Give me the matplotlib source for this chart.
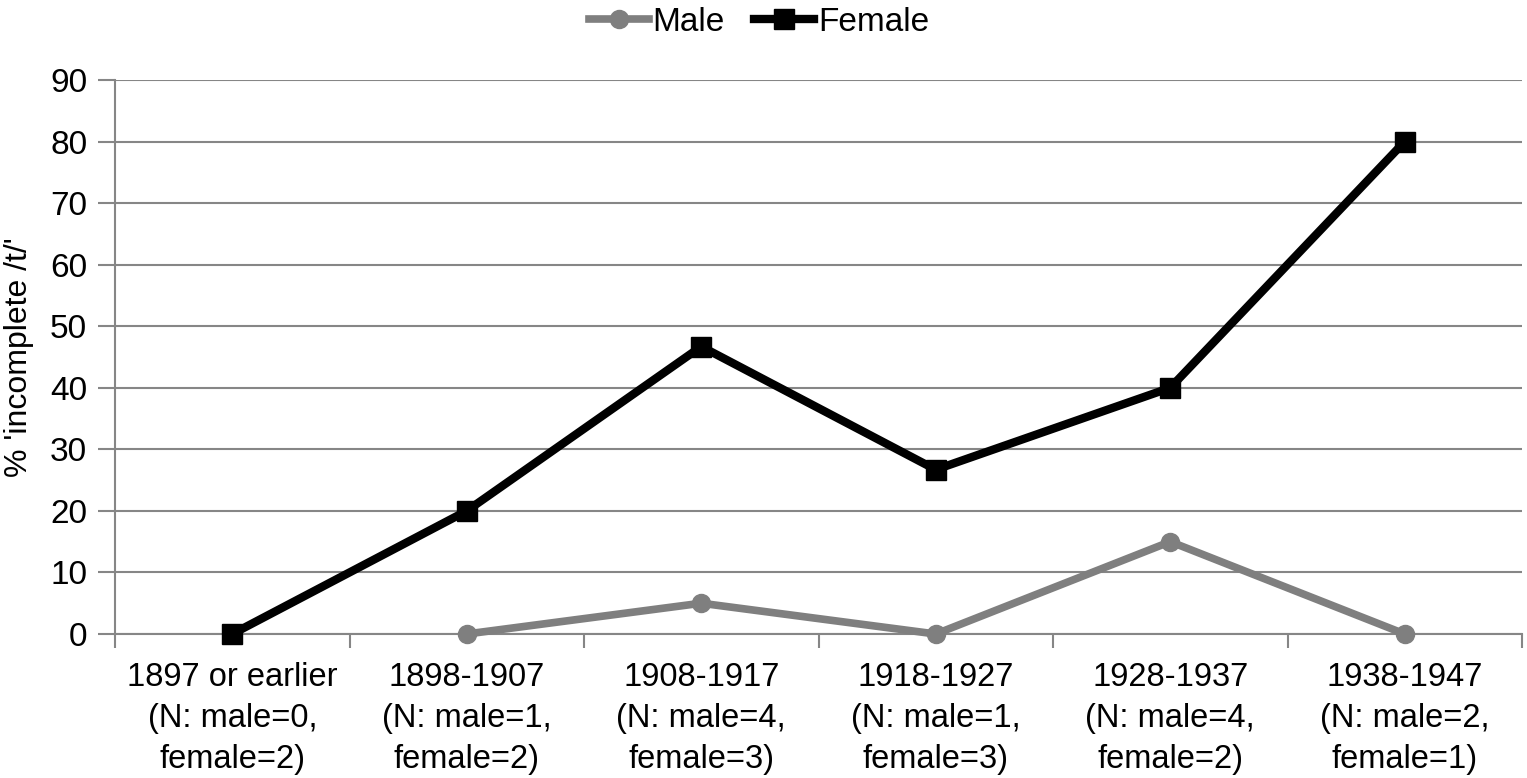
import matplotlib
matplotlib.use("Agg")
import matplotlib.pyplot as plt
import numpy as np

categories = ["1897 or earlier\n(N: male=0,\nfemale=2)",
              "1898-1907\n(N: male=1,\nfemale=2)",
              "1908-1917\n(N: male=4,\nfemale=3)",
              "1918-1927\n(N: male=1,\nfemale=3)",
              "1928-1937\n(N: male=4,\nfemale=2)",
              "1938-1947\n(N: male=2,\nfemale=1)"]
male = [np.nan, 0, 5, 0, 15, 0]
female = [0, 20, 46.7, 26.7, 40, 80]
yticks = [0, 10, 20, 30, 40, 50, 60, 70, 80, 90]

plt.rcParams['font.family'] = ['Liberation Sans', 'DejaVu Sans']

fig = plt.figure(figsize=(15.27, 7.78), dpi=100)
ax = fig.add_axes([115/1527, 1-634/778, (1522-115)/1527, (634-80)/778])

x = np.arange(len(categories))
grid_c = '#868686'
ax.plot(x, male, color='#7f7f7f', lw=5.5, marker='o', ms=13, label='Male',
        clip_on=False, zorder=3)
ax.plot(x, female, color='#000000', lw=6, marker='s', ms=15, label='Female',
        clip_on=False, zorder=4)

ax.set_xlim(-0.5, len(categories) - 0.5)
ax.set_ylim(0, 90)
ax.set_yticks(yticks)
ax.yaxis.grid(True, color=grid_c, lw=1.5)
ax.set_axisbelow(True)
ax.set_xticks(x)
ax.set_xticklabels(categories, fontsize=23.5, linespacing=1.42)
ax.set_xticks(np.arange(-0.5, len(categories)), minor=True)
ax.tick_params(axis='x', which='major', length=0, pad=20)
ax.tick_params(axis='x', which='minor', length=10, width=1.5, color=grid_c)
ax.tick_params(axis='y', length=12, width=1.5, color=grid_c, labelsize=24, pad=8)
for s in ['top', 'right']:
    ax.spines[s].set_visible(False)
for s in ['left', 'bottom']:
    ax.spines[s].set_color(grid_c)
    ax.spines[s].set_linewidth(1.5)

ax.set_ylabel("% 'incomplete /t/'", fontsize=23)
ax.yaxis.set_label_coords(-0.0576, 0.5)

fig.legend(loc='upper center', bbox_to_anchor=(0.497, 1.03), ncol=2, frameon=False,
           fontsize=24, handlelength=1.8, handletextpad=0.1, columnspacing=0.9)

fig.savefig('out.png', dpi=100)
